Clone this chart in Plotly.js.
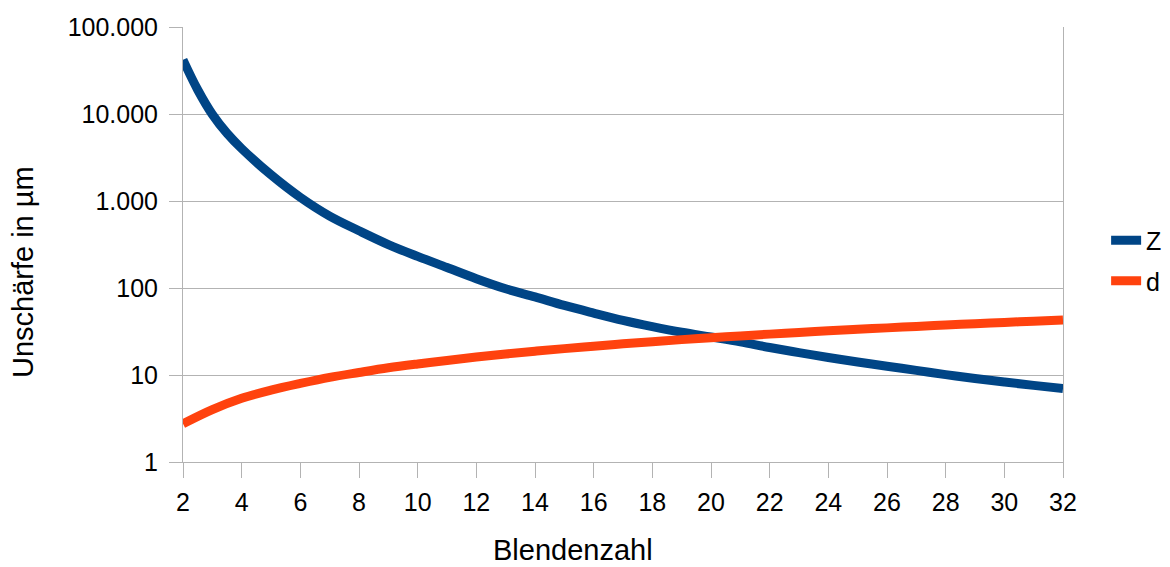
<!DOCTYPE html>
<html>
<head>
<meta charset="utf-8">
<script src="https://cdn.plot.ly/plotly-3.0.1.min.js"></script>
<style>html,body{margin:0;padding:0;background:#fff;}#chart{width:1170px;height:567px;}</style>
</head>
<body>
<div id="chart"></div>
<script>
const zN = [2, 2.5, 3, 3.5, 4, 5, 6, 7, 8, 9, 10, 11, 12, 13, 14, 15, 16, 17, 18, 19, 20, 21, 22, 23, 24, 25, 26, 27, 28, 29, 30, 31, 32];
const zValues = [42000, 19000, 9900, 6000, 4000, 2000, 1100, 670, 455, 316, 231, 172, 128, 98, 79, 63, 51.5, 42.5, 36, 31, 27.3, 24.0, 20.7, 18.1, 15.9, 14.1, 12.6, 11.3, 10.1, 9.1, 8.3, 7.6, 7.0];
const dN = [2, 3, 4, 5, 6, 7, 8, 9, 10, 11, 12, 13, 14, 15, 16, 17, 18, 19, 20, 21, 22, 23, 24, 25, 26, 27, 28, 29, 30, 31, 32];
const dValues = [2.75, 4.0, 5.4, 6.7, 8.0, 9.4, 10.7, 12.1, 13.4, 14.7, 16.1, 17.4, 18.8, 20.1, 21.4, 22.8, 24.1, 25.5, 26.8, 28.1, 29.5, 30.8, 32.2, 33.5, 34.8, 36.2, 37.5, 38.9, 40.2, 41.5, 42.9];
const yTickVals = [1, 10, 100, 1000, 10000, 100000];
const yTickText = ['1', '10', '100', '1.000', '10.000', '100.000'];
const xTitle = 'Blendenzahl';
const yTitle = 'Unschärfe in µm';
const seriesNames = ['Z', 'd'];

const font = 'Liberation Sans, Arial, sans-serif';
const grid = '#b3b3b3';

const traces = [
  {x: zN, y: zValues, name: seriesNames[0], type: 'scatter', mode: 'lines',
   line: {color: '#004586', width: 9, shape: 'spline'}, legendgroup: 'a'},
  {x: dN, y: dValues, name: seriesNames[1], type: 'scatter', mode: 'lines',
   line: {color: '#ff420e', width: 9, shape: 'spline'}, legendgroup: 'b'}
];

const layout = {
  width: 1170, height: 567,
  margin: {l: 183, r: 107, t: 27, b: 105, autoexpand: false},
  paper_bgcolor: '#fff', plot_bgcolor: '#fff',
  font: {family: font, size: 25, color: '#000'},
  showlegend: true,
  legend: {x: 1.049, y: 0.463, xanchor: 'left', yanchor: 'middle',
           font: {family: font, size: 25, color: '#000'},
           traceorder: 'grouped', tracegroupgap: 5, itemwidth: 30, bgcolor: 'rgba(0,0,0,0)'},
  xaxis: {range: [2, 32], dtick: 2, tick0: 2, showgrid: false, zeroline: false,
          showline: true, linecolor: grid, linewidth: 1,
          ticks: 'outside', ticklen: 15, tickcolor: grid, tickwidth: 1,
          ticklabelstandoff: 3,
          tickfont: {family: font, size: 25, color: '#000'}},
  yaxis: {type: 'log', range: [0, 5], tickvals: yTickVals, ticktext: yTickText,
          showgrid: true, gridcolor: grid, gridwidth: 1, zeroline: false,
          showline: true, mirror: true, linecolor: grid, linewidth: 1,
          ticks: 'outside', ticklen: 13, tickcolor: grid, tickwidth: 1,
          ticklabelstandoff: 6,
          tickfont: {family: font, size: 25, color: '#000'}},
  annotations: [
    {text: xTitle, xref: 'paper', yref: 'paper', x: 0.443, y: -0.203,
     xanchor: 'center', yanchor: 'middle', showarrow: false,
     font: {family: font, size: 29, color: '#000'}},
    {text: yTitle, xref: 'paper', yref: 'paper', x: -0.181, y: 0.436,
     xanchor: 'center', yanchor: 'middle', showarrow: false, textangle: -90,
     font: {family: font, size: 29, color: '#000'}}
  ]
};

Plotly.newPlot('chart', traces, layout, {displayModeBar: false, staticPlot: true});
</script>
</body>
</html>
